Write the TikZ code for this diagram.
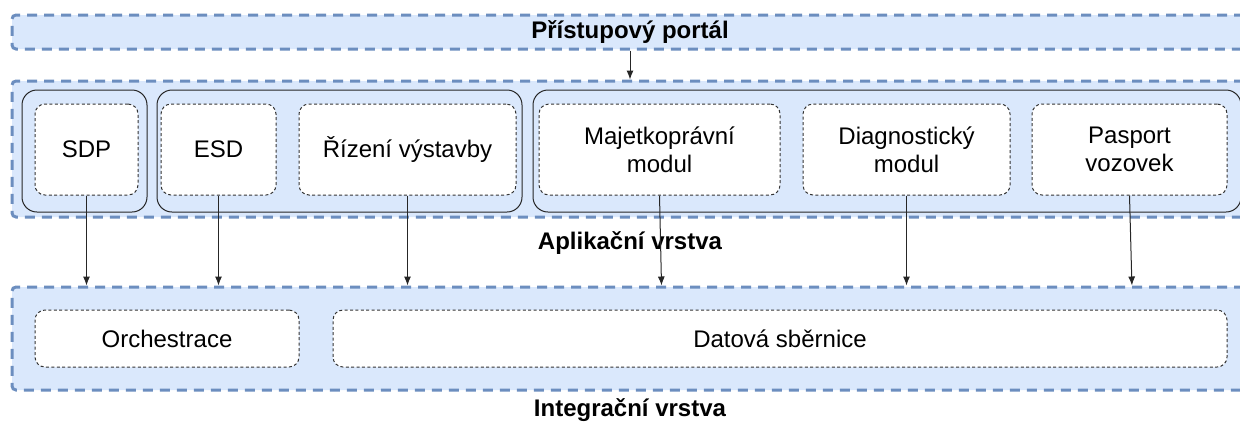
\documentclass[tikz,border=0pt]{standalone}
\usepackage{fontspec}
\setmainfont{Liberation Sans}
\usetikzlibrary{arrows.meta,positioning,calc}
\definecolor{layerfill}{HTML}{DAE8FC}
\definecolor{layerline}{HTML}{6C8EBF}
\newcommand{\archfont}{\fontsize{12}{14}\selectfont}
\tikzset{
  arch/layer/.style={draw=layerline, fill=layerfill, line width=1.5pt, dash pattern=on 5pt off 3.5pt, rounded corners=2pt, minimum width=618pt, inner sep=0pt},
  arch/group/.style={draw=black!85, line width=0.5pt, rounded corners=7.5pt, minimum height=61pt, inner sep=0pt},
  arch/module/.style={draw=black!80, fill=white, line width=0.5pt, dash pattern=on 1.5pt off 1.2pt, rounded corners=5pt, inner sep=0pt, align=center},
  arch/flow/.style={draw=black!85, line width=0.5pt, -{Latex[length=4.5pt,width=3.5pt]}},
  arch/caption/.style={font=\archfont\bfseries, inner sep=0pt}
}

\begin{document}
\begin{tikzpicture}[x=0.5pt, y=-0.5pt, font=\archfont]
  \useasboundingbox (0,0) rectangle (1240,425);

  % layers
  \node[arch/layer, minimum height=17pt, font=\archfont\bfseries] (portal) at (630,32) {Přístupový portál};
  \node[arch/layer, minimum height=68pt] (app) at (630,149) {};
  \node[arch/layer, minimum height=51.5pt] (integ) at (630,338.5) {};

  \node[arch/caption] (appcap) at (630,243) {Aplikační vrstva};
  \node[arch/caption] (integcap) at (630,410) {Integrační vrstva};

  % application groups
  \node[arch/group, minimum width=62.5pt] (g1) at (84.5,151) {};
  \node[arch/group, minimum width=182.5pt] (g2) at (339.5,151) {};
  \node[arch/group, minimum width=354pt] (g3) at (887,151) {};

  % application modules
  \node[arch/module, minimum width=51.5pt, minimum height=45.5pt] (sdp) at (86.5,149.5) {SDP};
  \node[arch/module, minimum width=57.5pt, minimum height=45.5pt] (esd) at (218.5,149.5) {ESD};
  \node[arch/module, minimum width=108.5pt, minimum height=45.5pt] (rizeni) at (407.5,149.5) {Řízení výstavby};
  \node[arch/module, minimum width=120.5pt, minimum height=45.5pt] (majetek) at (659.5,149.5) {Majetkoprávní\\modul};
  \node[arch/module, minimum width=103.5pt, minimum height=45.5pt] (diag) at (906.5,149.5) {Diagnostický\\modul};
  \node[arch/module, minimum width=97.5pt, minimum height=45.5pt] (pasport) at (1129.5,149.5) {Pasport\\vozovek};

  % integration modules
  \node[arch/module, minimum width=132pt, minimum height=28.5pt] (orch) at (167,338.5) {Orchestrace};
  \node[arch/module, minimum width=447pt, minimum height=28.5pt] (bus) at (780,338.5) {Datová sběrnice};

  % connectors
  \draw[arch/flow] (portal.south) -- (app.north);
  \draw[arch/flow] (sdp.south) -- (sdp.south |- integ.north);
  \draw[arch/flow] (esd.south) -- (esd.south |- integ.north);
  \draw[arch/flow] (rizeni.south) -- (rizeni.south |- integ.north);
  \draw[arch/flow] (majetek.south) -- ([xshift=1pt]majetek.south |- integ.north);
  \draw[arch/flow] (diag.south) -- (diag.south |- integ.north);
  \draw[arch/flow] (pasport.south) -- ([xshift=1.2pt]pasport.south |- integ.north);
\end{tikzpicture}
\end{document}
